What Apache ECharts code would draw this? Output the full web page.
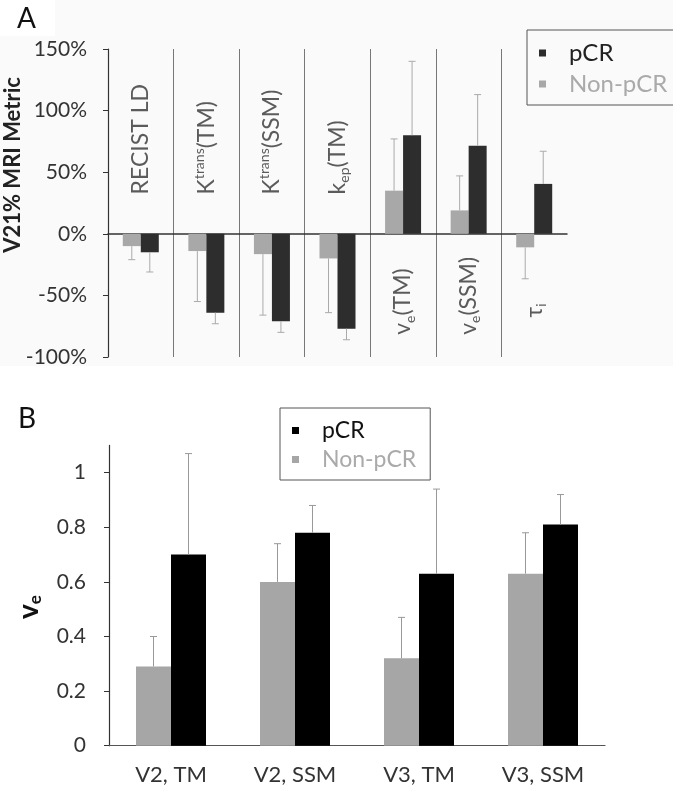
<!DOCTYPE html>
<html><head><meta charset="utf-8">
<script src="https://cdn.jsdelivr.net/npm/echarts@6/dist/echarts.min.js"></script>
<style>html,body{margin:0;padding:0;background:#fff}#c{width:673px;height:790px}</style>
</head><body><div id="c"></div>
<script>
// ---------- Panel A data ----------
const catsA = ['RECIST LD', 'K^trans(TM)', 'K^trans(SSM)', 'k_ep(TM)', 'v_e(TM)', 'v_e(SSM)', 'τ_i'];
const nonPcrA = [-10, -14, -16.5, -20, 35, 19, -11];
const pcrA = [-15, -64, -71, -77, 80, 71.5, 40.5];
const nonPcrAErr = [-21, -55, -66, -64, 77, 47, -36.5];
const pcrAErr = [-31, -73, -80, -86, 140, 113, 67];
const ticksA = [-100, -50, 0, 50, 100, 150];
// label anchor (in axis units) for the rotated category names
const catLabelAnchorA = [32, 32, 32, 32, -82, -82, -68];

// ---------- Panel B data ----------
const catsB = ['V2, TM', 'V2, SSM', 'V3, TM', 'V3, SSM'];
const nonPcrB = [0.29, 0.60, 0.32, 0.63];
const pcrB = [0.70, 0.78, 0.63, 0.81];
const nonPcrBErr = [0.40, 0.74, 0.47, 0.78];
const pcrBErr = [1.07, 0.88, 0.94, 0.92];
const ticksB = [0, 0.2, 0.4, 0.6, 0.8, 1];

const FONT = 'Lato';
const chart = echarts.init(document.getElementById('c'), null, {renderer: 'canvas'});

function toRich(s) {
  return '{m|' + s.replace(/\^(\w+)/, '}{sup|$1}{m|').replace(/_(\w+)/, '}{sub|$1}{m|') + '}';
}

function errSeries(name, xi, yi, vals, errs, offset, color) {
  return {
    name: name, type: 'custom', xAxisIndex: xi, yAxisIndex: yi, silent: true, z: 5,
    data: vals.map((v, i) => [i, v, errs[i]]),
    encode: {x: 0, y: [1, 2]},
    renderItem: function (params, api) {
      const p0 = api.coord([api.value(0), api.value(1)]);
      const p1 = api.coord([api.value(0), api.value(2)]);
      const x = p0[0] + offset;
      const st = {stroke: color, lineWidth: 1};
      return {type: 'group', children: [
        {type: 'line', shape: {x1: x, y1: p0[1], x2: x, y2: p1[1]}, style: st},
        {type: 'line', shape: {x1: x - 3.5, y1: p1[1], x2: x + 3.5, y2: p1[1]}, style: st}
      ]};
    }
  };
}

const option = {
  animation: false,
  backgroundColor: '#fff',
  textStyle: {fontFamily: FONT},
  graphic: [
    {type: 'rect', z: -10, shape: {x: 0, y: 36, width: 673, height: 330}, style: {fill: '#fafafa'}},
    {type: 'rect', z: -10, shape: {x: 55, y: 0, width: 618, height: 36}, style: {fill: '#fafafa'}},
    {type: 'text', x: 17, y: 5, style: {text: 'A', font: '28px Lato', fill: '#111'}},
    {type: 'text', x: 18, y: 405, style: {text: 'B', font: '28px Lato', fill: '#111'}},
    {type: 'text', x: 13, y: 165, rotation: Math.PI / 2,
     style: {text: 'V21% MRI Metric', font: 'bold 22px Lato', fill: '#222', align: 'center', verticalAlign: 'middle'}},
    {type: 'text', x: 29, y: 607, rotation: Math.PI / 2,
     style: {text: '{v|v}{e|e}', align: 'center', verticalAlign: 'middle',
       rich: {v: {font: 'bold 28px Lato', fill: '#111', lineHeight: 30},
              e: {font: 'bold 17px Lato', fill: '#111', verticalAlign: 'bottom', lineHeight: 17}}}}
  ],
  legend: [
    {left: 527, top: 30, orient: 'vertical', borderColor: '#555', borderWidth: 1,
     padding: [11, 14, 9, 12], itemWidth: 7, itemHeight: 7, itemGap: 7, icon: 'rect',
     textStyle: {fontFamily: FONT, fontSize: 24, padding: [0, 0, 0, 18]},
     data: [{name: 'pCR', itemStyle: {color: '#2d2d2d'}, textStyle: {color: '#222'}},
            {name: 'Non-pCR', itemStyle: {color: '#a8a8a8'}, textStyle: {color: '#aaa'}}]},
    {left: 280, top: 408, orient: 'vertical', borderColor: '#555', borderWidth: 1,
     padding: [11, 14, 9, 12], itemWidth: 7, itemHeight: 7, itemGap: 6, icon: 'rect',
     textStyle: {fontFamily: FONT, fontSize: 23, padding: [0, 0, 0, 18]},
     data: [{name: 'pCR', itemStyle: {color: '#000'}, textStyle: {color: '#111'}},
            {name: 'Non-pCR', itemStyle: {color: '#a6a6a6'}, textStyle: {color: '#aaa'}}]}
  ],
  grid: [
    {left: 108, top: 49, width: 459, height: 308},
    {left: 109, top: 445.4, width: 496, height: 300.3}
  ],
  xAxis: [
    {gridIndex: 0, type: 'category', data: catsA,
     axisLine: {onZero: true, lineStyle: {color: '#333', width: 1.5}},
     axisTick: {show: false}, axisLabel: {show: false},
     splitLine: {show: true, interval: 0, showMinLine: false, showMaxLine: false, lineStyle: {color: '#777', width: 1}}},
    {gridIndex: 1, type: 'category', data: catsB,
     axisLine: {lineStyle: {color: '#555', width: 1.2}},
     axisTick: {show: false},
     axisLabel: {fontFamily: FONT, fontSize: 22, color: '#333', margin: 18}}
  ],
  yAxis: [
    {gridIndex: 0, type: 'value', min: ticksA[0], max: ticksA[ticksA.length - 1], interval: 50,
     axisLine: {show: true, lineStyle: {color: '#333', width: 1.2}},
     axisTick: {show: true, inside: false, length: 5, lineStyle: {color: '#333'}},
     splitLine: {show: false},
     axisLabel: {fontFamily: FONT, fontSize: 21, color: '#333', margin: 21, formatter: v => v + '%'}},
    {gridIndex: 1, type: 'value', min: ticksB[0], max: 1.1, interval: 0.2,
     axisLine: {show: true, lineStyle: {color: '#333', width: 1.2}},
     axisTick: {show: true, inside: false, length: 5, lineStyle: {color: '#333'}},
     splitLine: {show: false},
     axisLabel: {fontFamily: FONT, fontSize: 21, color: '#333', margin: 23, showMaxLabel: false,
       formatter: v => (ticksB.some(t => Math.abs(t - v) < 1e-9) ? String(Math.round(v * 10) / 10) : '')}}
  ],
  series: [
    {name: 'Non-pCR', type: 'bar', xAxisIndex: 0, yAxisIndex: 0, data: nonPcrA, barWidth: 18, barGap: '0%',
     itemStyle: {color: '#a8a8a8'}},
    {name: 'pCR', type: 'bar', xAxisIndex: 0, yAxisIndex: 0, data: pcrA, barWidth: 18, barGap: '0%',
     itemStyle: {color: '#2d2d2d'}},
    errSeries('errA1', 0, 0, nonPcrA, nonPcrAErr, -9, '#aaa'),
    errSeries('errA2', 0, 0, pcrA, pcrAErr, 9, '#aaa'),
    {name: 'labelsA', type: 'scatter', xAxisIndex: 0, yAxisIndex: 0, symbolSize: 0, silent: true, z: 6,
     data: catsA.map((c, i) => ({value: [i, catLabelAnchorA[i]], name: c})),
     label: {show: true, position: 'inside', rotate: 90, align: 'left', verticalAlign: 'middle',
       formatter: p => toRich(p.name),
       rich: {
         m: {fontFamily: FONT, fontSize: 23, color: '#333', lineHeight: 28, verticalAlign: 'middle'},
         sup: {fontFamily: FONT, fontSize: 14, color: '#333', lineHeight: 14, verticalAlign: 'top'},
         sub: {fontFamily: FONT, fontSize: 14, color: '#333', lineHeight: 14, verticalAlign: 'bottom'}
       }}},
    {name: 'Non-pCR', type: 'bar', xAxisIndex: 1, yAxisIndex: 1, data: nonPcrB, barWidth: 35, barGap: '0%',
     itemStyle: {color: '#a6a6a6'}},
    {name: 'pCR', type: 'bar', xAxisIndex: 1, yAxisIndex: 1, data: pcrB, barWidth: 35, barGap: '0%',
     itemStyle: {color: '#000'}},
    errSeries('errB1', 1, 1, nonPcrB, nonPcrBErr, -17.5, '#999'),
    errSeries('errB2', 1, 1, pcrB, pcrBErr, 17.5, '#999')
  ]
};
chart.setOption(option);
</script>
</body></html>
